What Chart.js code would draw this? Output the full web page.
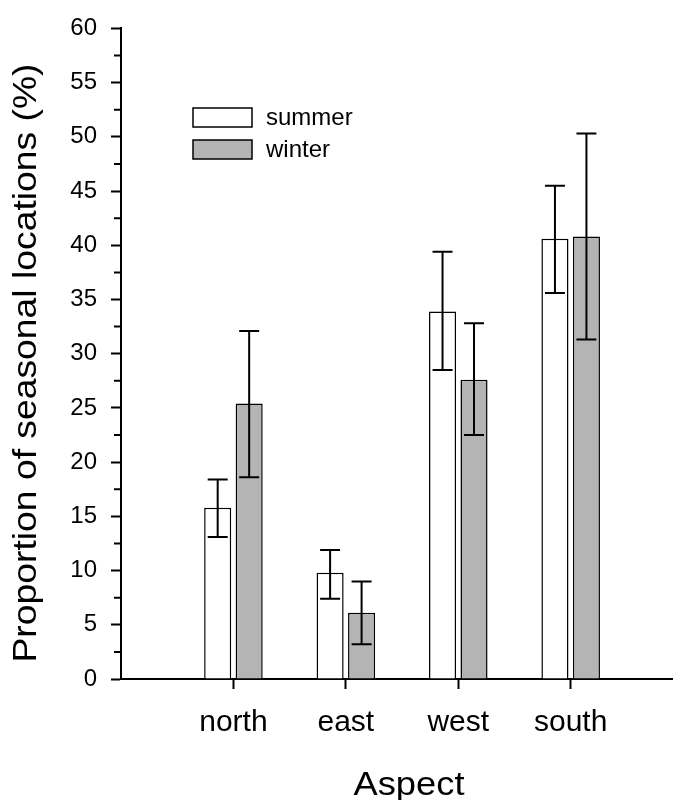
<!DOCTYPE html>
<html>
<head>
<meta charset="utf-8">
<script src="https://cdn.jsdelivr.net/npm/chart.js@4.4.1/dist/chart.umd.min.js"></script>
<style>
  html, body { margin: 0; padding: 0; background: #fff; overflow: hidden; }
  #wrap { position: relative; width: 673px; height: 800px; }
</style>
</head>
<body>
<div id="wrap"><canvas id="aspect-chart" width="673" height="800"></canvas></div>
<script>
// ── DATA ────────────────────────────────────────────────────────────────────
var aspects    = ['north', 'east', 'west', 'south'];
var seasons    = ['summer', 'winter'];
var summerMean = [15.8, 9.8, 33.9, 40.6];
var summerLow  = [13.1, 7.4, 28.5, 35.6];
var summerHigh = [18.4, 11.9, 39.4, 45.5];
var winterMean = [25.4, 6.1, 27.6, 40.8];
var winterLow  = [18.6, 3.2, 22.5, 31.3];
var winterHigh = [32.1, 9.0, 32.8, 50.3];
var yTickValues = [0, 5, 10, 15, 20, 25, 30, 35, 40, 45, 50, 55, 60];

var FONT = "'Liberation Sans', Arial, Helvetica, sans-serif";

function points(vals) {
  var out = [];
  for (var i = 0; i < vals.length; i++) out.push({ x: i + 1, y: vals[i] });
  return out;
}

// ── PLUGIN: error bars, minor ticks, legend, axis titles ───────────────────
var extras = {
  id: 'extras',
  afterDatasetsDraw: function(chart) {
    var ctx = chart.ctx;
    var ys = chart.scales.y;
    var area = chart.chartArea;

    ctx.save();
    ctx.strokeStyle = '#000';
    ctx.lineWidth = 2;

    // error bars
    chart.data.datasets.forEach(function(ds, d) {
      var meta = chart.getDatasetMeta(d);
      meta.data.forEach(function(bar, i) {
        var yHi = ys.getPixelForValue(ds.errHigh[i]);
        var yLo = ys.getPixelForValue(ds.errLow[i]);
        ctx.beginPath();
        ctx.moveTo(bar.x, yHi); ctx.lineTo(bar.x, yLo);
        ctx.moveTo(bar.x - 10, yHi); ctx.lineTo(bar.x + 10, yHi);
        ctx.moveTo(bar.x - 10, yLo); ctx.lineTo(bar.x + 10, yLo);
        ctx.stroke();
      });
    });

    // minor ticks halfway between the labelled ones
    ctx.beginPath();
    for (var k = 0; k < yTickValues.length - 1; k++) {
      var py = ys.getPixelForValue((yTickValues[k] + yTickValues[k + 1]) / 2);
      ctx.moveTo(area.left - 7, py); ctx.lineTo(area.left, py);
    }
    ctx.stroke();

    // legend
    ctx.lineWidth = 1.5;
    ctx.font = '24px ' + FONT;
    ctx.textBaseline = 'middle';
    ctx.textAlign = 'left';
    chart.data.datasets.forEach(function(ds, d) {
      var top = 108 + d * 32;
      ctx.fillStyle = ds.backgroundColor;
      ctx.fillRect(193, top, 59, 19);
      ctx.strokeRect(193, top, 59, 19);
      ctx.fillStyle = '#000';
      ctx.fillText(ds.label, 266, top + 10);
    });

    // axis titles (slightly wide lettering, as in the original)
    ctx.font = '33px ' + FONT;
    ctx.textAlign = 'center';
    ctx.textBaseline = 'alphabetic';
    ctx.save();
    ctx.translate(36, 363);
    ctx.rotate(-Math.PI / 2);
    ctx.scale(1.13, 1);
    ctx.fillText('Proportion of seasonal locations (%)', 0, 0);
    ctx.restore();

    ctx.save();
    ctx.translate(409, 795);
    ctx.scale(1.1, 1);
    ctx.fillText('Aspect', 0, 0);
    ctx.restore();

    ctx.restore();
  }
};

new Chart(document.getElementById('aspect-chart'), {
  type: 'bar',
  data: {
    datasets: [
      {
        label: seasons[0],
        data: points(summerMean),
        errLow: summerLow,
        errHigh: summerHigh,
        backgroundColor: '#ffffff',
        borderColor: '#000',
        borderWidth: 1.5,
      },
      {
        label: seasons[1],
        data: points(winterMean),
        errLow: winterLow,
        errHigh: winterHigh,
        backgroundColor: '#b4b4b4',
        borderColor: '#000',
        borderWidth: 1.5,
      },
    ],
  },
  options: {
    responsive: false,
    animation: false,
    devicePixelRatio: 1,
    categoryPercentage: 0.56,
    barPercentage: 0.86,
    layout: { padding: { top: 20, left: 0, right: 0, bottom: 0 } },
    plugins: {
      legend: { display: false },
      tooltip: { enabled: false },
    },
    scales: {
      x: {
        type: 'linear',
        min: 0,
        max: 4.91,
        offset: false,
        afterBuildTicks: function(scale) {
          scale.ticks = aspects.map(function(a, i) { return { value: i + 1 }; });
        },
        afterFit: function(scale) { scale.height = 121; },
        ticks: {
          color: '#000',
          font: { family: FONT, size: 30 },
          padding: 16,
          maxRotation: 0,
          callback: function(val) { return aspects[val - 1]; },
        },
        grid: {
          offset: false,
          drawOnChartArea: false,
          tickLength: 10,
          tickWidth: 2,
          tickColor: '#000',
        },
        border: { color: '#000', width: 2 },
      },
      y: {
        min: 0,
        max: 60,
        afterBuildTicks: function(scale) {
          scale.ticks = yTickValues.map(function(v) { return { value: v }; });
        },
        afterFit: function(scale) { scale.width = 121; },
        ticks: {
          color: '#000',
          font: { family: FONT, size: 24 },
          padding: 14,
        },
        grid: {
          drawOnChartArea: false,
          tickLength: 10,
          tickWidth: 2,
          tickColor: '#000',
        },
        border: { color: '#000', width: 2 },
      },
    },
  },
  plugins: [extras],
});
</script>
</body>
</html>
